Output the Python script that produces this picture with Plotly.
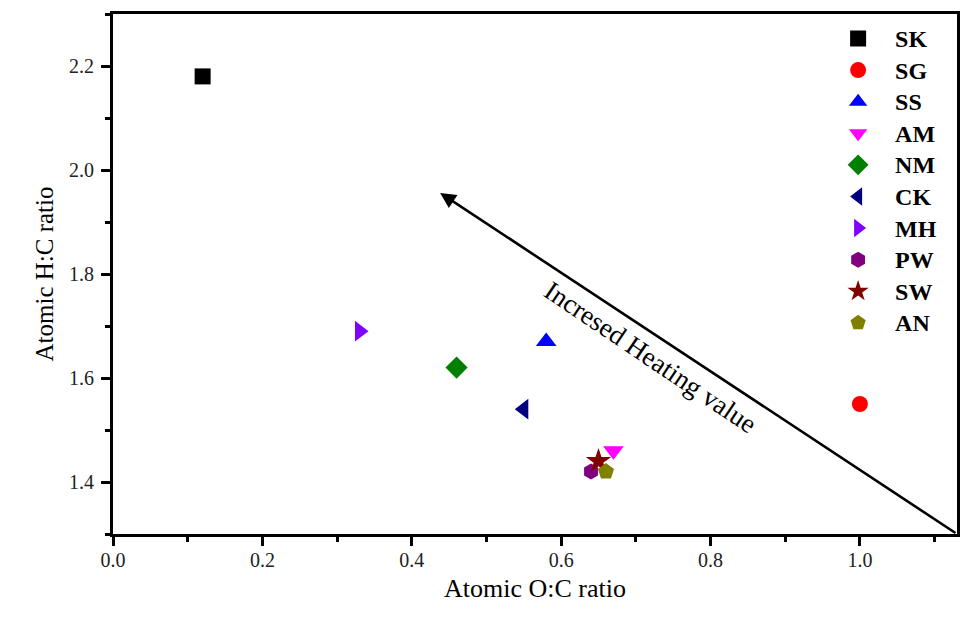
import plotly.graph_objects as go

# Van Krevelen style data: atomic O:C vs H:C ratios per sample
samples = ["SK", "SG", "SS", "AM", "NM", "CK", "MH", "PW", "SW", "AN"]
oc_ratio = [0.12, 1.00, 0.58, 0.67, 0.46, 0.55, 0.33, 0.64, 0.65, 0.66]
hc_ratio = [2.18, 1.55, 1.67, 1.46, 1.62, 1.54, 1.69, 1.42, 1.44, 1.42]
symbols = ["square", "circle", "triangle-up", "triangle-down", "diamond",
           "triangle-left", "triangle-right", "hexagon", "star", "pentagon"]
colors = ["#000000", "#FF0000", "#0000FF", "#FF00FF", "#008000",
          "#000080", "#8000FF", "#800080", "#800000", "#808000"]
sizes = [16, 16, 18, 18, 17, 18, 18, 16, 19, 17]

x_range = [0.0, 1.13]
y_range = [1.30, 2.30]

serif = "Liberation Serif, Times New Roman, serif"

fig = go.Figure()
for name, x, y, sym, col, sz in zip(samples, oc_ratio, hc_ratio, symbols, colors, sizes):
    fig.add_trace(go.Scatter(
        x=[x], y=[y], mode="markers",
        # larger glyphs in the legend while keeping compact row spacing
        name=f'<span style="font-size:24px">{name}</span>',
        marker=dict(symbol=sym, color=col, size=sz, line=dict(width=0)),
    ))

# Arrow indicating the direction of increasing heating value
fig.add_annotation(
    x=0.438, y=1.956, ax=x_range[1], ay=y_range[0],
    xref="x", yref="y", axref="x", ayref="y",
    text="", showarrow=True, arrowhead=2, arrowsize=1.2,
    arrowwidth=2.6, arrowcolor="black",
)
fig.add_annotation(
    x=0.719, y=1.640, xref="x", yref="y",
    text="Incresed Heating value", showarrow=False, textangle=34,
    font=dict(family=serif, size=27, color="black"),
)

axis_common = dict(
    showline=True, linewidth=3, linecolor="black", mirror=True,
    ticks="outside", ticklen=9, tickwidth=3, tickcolor="black",
    showgrid=False, zeroline=False,
    tickfont=dict(family=serif, size=20, color="#222222"),
)

fig.update_xaxes(
    range=x_range, dtick=0.2, tickformat=".1f",
    minor=dict(dtick=0.1, ticks="outside", ticklen=5, tickwidth=2.5, tickcolor="black"),
    title_text="Atomic O:C ratio", title_standoff=9,
    title_font=dict(family=serif, size=26, color="black"),
    ticklabelstandoff=-3,
    **axis_common,
)
fig.update_yaxes(
    range=y_range, dtick=0.2, tick0=0.0, tickformat=".1f",
    minor=dict(dtick=0.1, ticks="outside", ticklen=5, tickwidth=2.5, tickcolor="black"),
    title_text="Atomic H:C ratio", title_standoff=9,
    title_font=dict(family=serif, size=25, color="black"),
    ticklabelstandoff=3,
    **axis_common,
)

fig.update_layout(
    width=972, height=619,
    margin=dict(l=113, r=15, t=14, b=85),
    paper_bgcolor="white", plot_bgcolor="white",
    legend=dict(
        x=0.839, y=0.993, xanchor="left", yanchor="top",
        bgcolor="rgba(0,0,0,0)", borderwidth=0,
        font=dict(family=serif, size=22, color="black", weight="bold"),
        itemwidth=64, itemsizing="trace",
    ),
    showlegend=True,
)

fig.write_html("out.html")
